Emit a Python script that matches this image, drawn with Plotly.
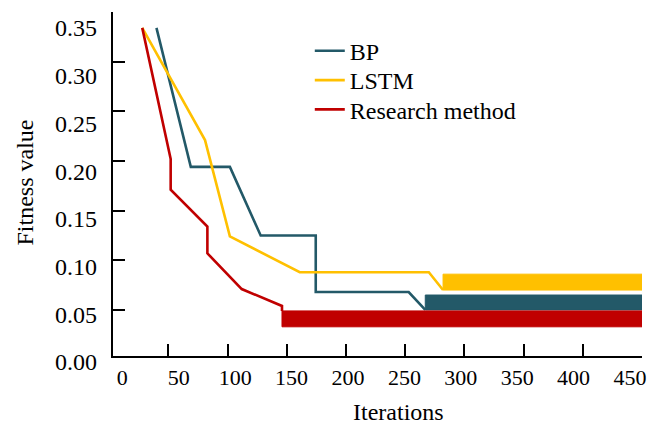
import plotly.graph_objects as go

# ---------------- data ----------------
series_names = ["BP", "LSTM", "Research method"]

bp_x = [40, 69, 102, 128, 174.5, 174.5, 253, 267]
bp_y = [0.334, 0.194, 0.194, 0.125, 0.125, 0.068, 0.068, 0.050]
bp_band_x = [267, 450]
bp_band_lo = 0.050
bp_band_hi = 0.065

lstm_x = [28, 81, 102, 161, 270, 282]
lstm_y = [0.334, 0.221, 0.124, 0.088, 0.088, 0.070]
lstm_band_x = [282, 450]
lstm_band_lo = 0.070
lstm_band_hi = 0.086

res_x = [28, 52, 52, 83, 83, 112, 146, 146]
res_y = [0.334, 0.202, 0.171, 0.134, 0.107, 0.071, 0.054, 0.049]
res_band_x = [146, 450]
res_band_lo = 0.033
res_band_hi = 0.049

x_tick_vals = [50, 100, 150, 200, 250, 300, 350, 400, 450]
x_label_vals = [0, 50, 100, 150, 200, 250, 300, 350, 400, 450]
x_tick_labels = ["0", "50", "100", "150", "200", "250", "300", "350", "400", "450"]
y_tick_vals = [0.05, 0.10, 0.15, 0.20, 0.25, 0.30, 0.35]
y_label_vals = [0, 0.05, 0.10, 0.15, 0.20, 0.25, 0.30, 0.35]
y_tick_labels = ["0.00", "0.05", "0.10", "0.15", "0.20", "0.25", "0.30", "0.35"]

colors = ["#235968", "#FFC000", "#C00000"]
FONT = "Liberation Serif, Times New Roman, serif"

W, H = 664, 426
ML, MR, MT, MB = 113, 22, 12, 46
plot_w = W - ML - MR
plot_h = H - MT - MB
y_dom0 = (H - MB - 355.7) / plot_h  # x-axis line position inside the plot area

fig = go.Figure()

lines = [(bp_x, bp_y), (lstm_x, lstm_y), (res_x, res_y)]
bands = [(bp_band_x, bp_band_lo, bp_band_hi),
         (lstm_band_x, lstm_band_lo, lstm_band_hi),
         (res_band_x, res_band_lo, res_band_hi)]
legend_ids = ["legend", "legend2", "legend3"]

for name, (lx, ly), (bx, lo, hi), c, lg in zip(series_names, lines, bands, colors, legend_ids):
    fig.add_trace(go.Scatter(
        x=[bx[0], bx[1], bx[1], bx[0], bx[0]],
        y=[lo, lo, hi, hi, lo],
        mode="lines", fill="toself", fillcolor=c,
        line=dict(color=c, width=1), showlegend=False, hoverinfo="skip"))
    fig.add_trace(go.Scatter(x=lx, y=ly, mode="lines", name=name, legend=lg,
                             line=dict(color=c, width=2.6)))

# empty traces so that the label axes get drawn
fig.add_trace(go.Scatter(x=[None], y=[None], xaxis="x2", yaxis="y",
                         showlegend=False, hoverinfo="skip"))
fig.add_trace(go.Scatter(x=[None], y=[None], xaxis="x3", yaxis="y2",
                         showlegend=False, hoverinfo="skip"))

legend_centers = [50.7, 80.0, 109.3]   # pixel rows of the legend entries
legend_style = dict(x=0.372, xanchor="left", yanchor="top",
                    bgcolor="rgba(0,0,0,0)", font=dict(size=24, family=FONT))

fig.update_layout(
    width=W, height=H,
    margin=dict(l=ML, r=MR, t=MT, b=MB),
    paper_bgcolor="white", plot_bgcolor="rgba(0,0,0,0)",
    font=dict(family=FONT, size=22, color="black"),
    showlegend=True,
    legend=dict(y=(H - MB - legend_centers[0] + 22) / plot_h, **legend_style),
    legend2=dict(y=(H - MB - legend_centers[1] + 22) / plot_h, **legend_style),
    legend3=dict(y=(H - MB - legend_centers[2] + 22) / plot_h, **legend_style),
    xaxis=dict(range=[3.3, 450], tickvals=x_tick_vals, ticks="inside",
               ticklen=12, tickwidth=2, tickcolor="black",
               showticklabels=False, showline=True, linecolor="black",
               linewidth=2, showgrid=False, zeroline=False, anchor="y"),
    yaxis=dict(range=[0.0039, 0.35], domain=[y_dom0, 1], tickvals=y_tick_vals,
               ticks="inside", ticklen=12, tickwidth=2, tickcolor="black",
               showticklabels=False, showline=True, linecolor="black",
               linewidth=2, showgrid=False, zeroline=False, anchor="x"),
    # label axes (text placement as in the reference)
    xaxis2=dict(overlaying="x", anchor="y", side="bottom",
                range=[-8.24, 460.6], tickmode="array",
                tickvals=x_label_vals, ticktext=x_tick_labels,
                ticks="", showline=False,
                showgrid=False, zeroline=False, ticklabelstandoff=6,
                tickfont=dict(size=22, family=FONT)),
    xaxis3=dict(domain=[0, 1], anchor="y2", visible=False, range=[0, 1]),
    yaxis2=dict(anchor="x3", side="left", domain=[0, 1],
                range=[-0.01886, 0.36676], tickmode="array",
                tickvals=y_label_vals, ticktext=y_tick_labels,
                ticks="", showline=False,
                showgrid=False, zeroline=False, ticklabelstandoff=15,
                tickfont=dict(size=24, family=FONT)),
    annotations=[
        dict(text="Iterations", x=(398 - ML) / plot_w, y=(H - MB - 412) / plot_h,
             xref="paper", yref="paper", xanchor="center", yanchor="middle",
             showarrow=False, font=dict(size=24, family=FONT)),
        dict(text="Fitness value", x=(24 - ML) / plot_w, y=(H - MB - 182.5) / plot_h,
             xref="paper", yref="paper", xanchor="center", yanchor="middle",
             textangle=-90, showarrow=False, font=dict(size=24, family=FONT)),
    ],
)

fig.write_html("out.html", config={"displayModeBar": False},
               post_script="document.body.style.margin='0';document.body.style.overflow='hidden';")
